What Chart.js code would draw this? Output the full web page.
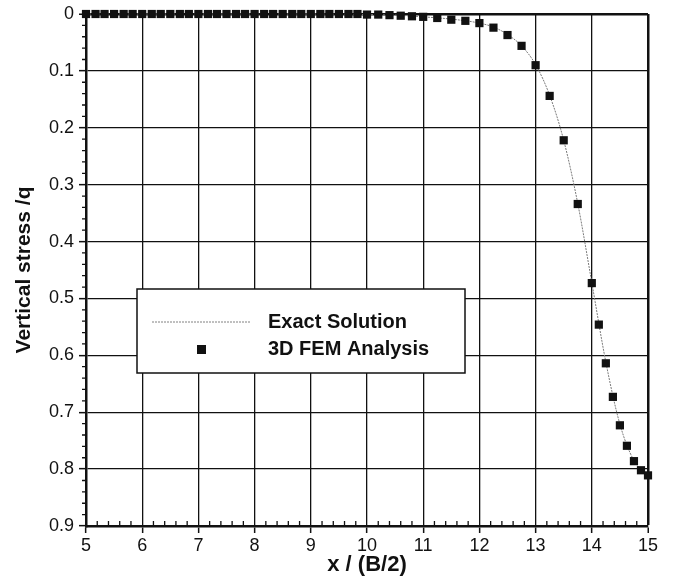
<!DOCTYPE html>
<html>
<head>
<title>Vertical stress along x / (B/2)</title>
<script src="https://cdn.jsdelivr.net/npm/chart.js"></script>
<style>
  html, body { margin: 0; padding: 0; background: #fff; }
  #wrap { width: 676px; height: 581px; }
</style>
</head>
<body>
<div id="wrap"><canvas id="stressChart" width="676" height="581"></canvas></div>
<script>
// 3D FEM results (x / (B/2), vertical stress / q)
const femX = [5, 5.17, 5.33, 5.5, 5.67, 5.83, 6, 6.17, 6.33, 6.5, 6.67, 6.83,
  7, 7.17, 7.33, 7.5, 7.67, 7.83, 8, 8.17, 8.33, 8.5, 8.67, 8.83,
  9, 9.17, 9.33, 9.5, 9.67, 9.83, 10, 10.2, 10.4, 10.6, 10.8,
  11, 11.25, 11.5, 11.75, 12, 12.25, 12.5, 12.75, 13, 13.25, 13.5, 13.75,
  14, 14.125, 14.25, 14.375, 14.5, 14.625, 14.75, 14.875, 15];
const femY = [0, 0, 0, 0, 0, 0, 0, 0, 0, 0, 0, 0,
  0, 0, 0, 0, 0, 0, 0, 0, 0, 0, 0, 0,
  0, 0, 0, 0, 0, 0, 0.001, 0.001, 0.002, 0.003, 0.004,
  0.005, 0.007, 0.010, 0.012, 0.016, 0.024, 0.037, 0.056, 0.090, 0.144, 0.222, 0.334,
  0.473, 0.546, 0.614, 0.673, 0.723, 0.759, 0.786, 0.802, 0.811];

// closed-form curve
const exactX = [5, 6, 7, 8, 9, 10, 10.5, 11, 11.5, 12, 12.25, 12.5, 12.75,
  13, 13.25, 13.5, 13.75, 14, 14.25, 14.5, 14.75, 15];
const exactY = [0, 0, 0, 0, 0, 0.001, 0.002, 0.005, 0.009, 0.016, 0.023, 0.036, 0.056,
  0.089, 0.143, 0.222, 0.333, 0.472, 0.612, 0.721, 0.785, 0.810];

const xTicks = [5, 6, 7, 8, 9, 10, 11, 12, 13, 14, 15];
const yTicks = [0, 0.1, 0.2, 0.3, 0.4, 0.5, 0.6, 0.7, 0.8, 0.9];
const yTickLabels = ['0', '0.1', '0.2', '0.3', '0.4', '0.5', '0.6', '0.7', '0.8', '0.9'];

const FONT = '"Liberation Sans", Arial, Helvetica, sans-serif';
const INK = '#111';

const toPoints = (xs, ys) => xs.map((x, i) => ({ x: x, y: ys[i] }));

// small ticks between the labelled ones
const minorTicks = {
  id: 'minorTicks',
  afterDraw(chart) {
    const ctx = chart.ctx;
    const xs = chart.scales.x, ys = chart.scales.y;
    const area = chart.chartArea;
    ctx.save();
    ctx.strokeStyle = INK;
    ctx.lineWidth = 1.3;
    ctx.beginPath();
    for (let i = 0; i <= 45; i++) {
      if (i % 5 === 0) continue;
      const py = ys.getPixelForValue(i * 0.02);
      ctx.moveTo(area.left - 4, py);
      ctx.lineTo(area.left, py);
    }
    for (let i = 0; i <= 50; i++) {
      if (i % 5 === 0) continue;
      const px = xs.getPixelForValue(5 + i * 0.2);
      ctx.moveTo(px, area.bottom);
      ctx.lineTo(px, area.bottom - 5);
    }
    ctx.stroke();
    ctx.restore();
  }
};

// boxed key sitting inside the plot
const boxedLegend = {
  id: 'boxedLegend',
  afterDraw(chart) {
    const ctx = chart.ctx;
    const a = chart.chartArea;
    const left = a.left + 51, top = a.top + 275, w = 328, h = 84;
    const sets = chart.data.datasets;
    ctx.save();
    ctx.fillStyle = '#fff';
    ctx.fillRect(left, top, w, h);
    ctx.strokeStyle = INK;
    ctx.lineWidth = 1.5;
    ctx.strokeRect(left, top, w, h);

    // line sample
    ctx.strokeStyle = '#808080';
    ctx.lineWidth = 1;
    ctx.setLineDash([2, 1]);
    ctx.beginPath();
    ctx.moveTo(left + 15, top + 33);
    ctx.lineTo(left + 113, top + 33);
    ctx.stroke();
    ctx.setLineDash([]);

    // marker sample
    ctx.fillStyle = INK;
    ctx.fillRect(left + 60, top + 56, 9, 9);

    ctx.font = 'bold 20px ' + FONT;
    ctx.textBaseline = 'middle';
    ctx.fillStyle = INK;
    ctx.fillText(sets[0].label, left + 131, top + 33);
    ctx.fillText(sets[1].label, left + 131, top + 60);
    ctx.restore();
  }
};

new Chart(document.getElementById('stressChart'), {
  type: 'scatter',
  data: {
    datasets: [{
      label: 'Exact Solution',
      data: toPoints(exactX, exactY),
      showLine: true,
      borderColor: '#7a7a7a',
      borderWidth: 1,
      borderDash: [2, 1],
      cubicInterpolationMode: 'monotone',
      pointRadius: 0,
      order: 2,
      clip: 6
    }, {
      label: '3D FEM Analysis',
      data: toPoints(femX, femY),
      showLine: false,
      pointStyle: 'rect',
      pointRadius: 5.8,
      backgroundColor: INK,
      borderColor: INK,
      borderWidth: 0,
      order: 1,
      clip: 10
    }]
  },
  options: {
    responsive: false,
    animation: false,
    layout: { padding: { left: 0, right: 28, top: 4, bottom: 0 } },
    plugins: {
      legend: { display: false },
      tooltip: { enabled: false }
    },
    scales: {
      x: {
        type: 'linear',
        position: 'bottom',
        min: 5,
        max: 15,
        afterBuildTicks: s => { s.ticks = xTicks.map(v => ({ value: v })); },
        afterFit: s => { s.height = 55; },
        ticks: {
          autoSkip: false,
          maxRotation: 0,
          padding: 2,
          color: INK,
          font: { family: FONT, size: 18 },
          callback: v => String(v)
        },
        grid: {
          color: INK,
          lineWidth: c => (c.tick && c.tick.value === 15 ? 2.5 : 1.3),
          tickLength: 7,
          tickWidth: 1.5
        },
        border: { display: true, color: INK, width: 2.5 },
        title: {
          display: true,
          text: 'x / (B/2)',
          color: INK,
          font: { family: FONT, size: 22, weight: 'bold' },
          padding: { top: 0, bottom: 3 }
        }
      },
      y: {
        type: 'linear',
        reverse: true,
        min: 0,
        max: 0.9,
        afterBuildTicks: s => { s.ticks = yTicks.map(v => ({ value: v })); },
        afterFit: s => { s.width = 86; },
        ticks: {
          autoSkip: false,
          padding: 5,
          color: INK,
          font: { family: FONT, size: 18, lineHeight: 1 },
          callback: (v, i) => yTickLabels[i]
        },
        grid: {
          color: INK,
          lineWidth: c => (c.tick && c.tick.value === 0 ? 2.5 : 1.3),
          tickLength: 7,
          tickWidth: 1.5
        },
        border: { display: true, color: INK, width: 2.5 },
        title: {
          display: true,
          text: 'Vertical stress /q',
          color: INK,
          font: { family: FONT, size: 21, weight: 'bold' },
          padding: { top: 12, bottom: 0 }
        }
      }
    }
  },
  plugins: [minorTicks, boxedLegend]
});
</script>
</body>
</html>
